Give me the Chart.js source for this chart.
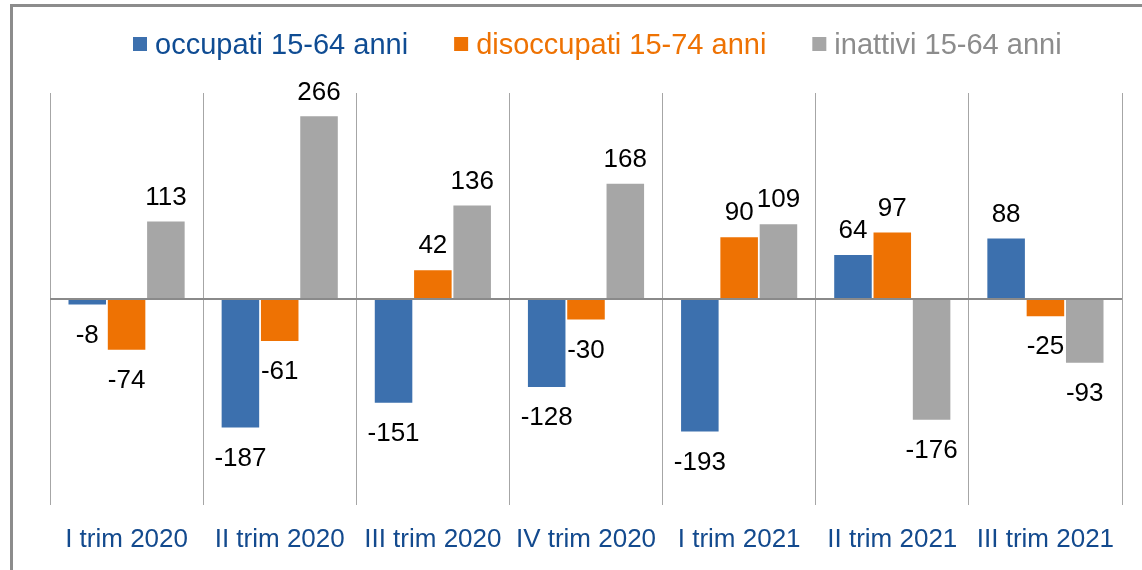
<!DOCTYPE html>
<html><head><meta charset="utf-8">
<script src="https://cdn.jsdelivr.net/npm/chart.js@4/dist/chart.umd.min.js"></script>
<style>
html,body{margin:0;padding:0;background:#fff;overflow:hidden}
#wrap{position:relative;width:1142px;height:570px;overflow:hidden}
#frame{position:absolute;left:10px;top:4px;width:1200px;height:700px;border-left:3px solid #8c8c8c;border-top:3px solid #8c8c8c}
canvas{position:absolute;left:0;top:0}
</style></head><body>
<div id="wrap"><div id="frame"></div><canvas id="c" width="1142" height="570"></canvas></div>
<script>
const categories = ['I trim 2020','II trim 2020','III trim 2020','IV trim 2020','I trim 2021','II trim 2021','III trim 2021'];
const occupati = [-8,-187,-151,-128,-193,64,88];
const disoccupati = [-74,-61,42,-30,90,97,-25];
const inattivi = [113,266,136,168,109,-176,-93];
const seriesNames = ['occupati 15-64 anni','disoccupati 15-74 anni','inattivi 15-64 anni'];
const yMin = -300, yMax = 300, yStep = 100;

const barColors = ['#3C70AE','#EE7203','#A6A6A6'];
const legendTextColors = ['#0F4C93','#EE7203','#8C8C8C'];
const FONT = '"Liberation Sans", Arial, sans-serif';

const legendPlugin = {
  id: 'customLegend',
  afterDraw(chart) {
    const ctx = chart.ctx;
    ctx.save();
    ctx.font = '29px ' + FONT;
    ctx.textBaseline = 'alphabetic';
    ctx.textAlign = 'left';
    let x = 133;
    const box = 14, gap = 8, sp = 46, base = 53.5;
    chart.data.datasets.forEach((ds, i) => {
      ctx.fillStyle = ds.backgroundColor;
      ctx.fillRect(x, 37, box, box);
      x += box + gap;
      ctx.fillStyle = legendTextColors[i];
      ctx.fillText(ds.label, x, base);
      x += ctx.measureText(ds.label).width + sp;
    });
    ctx.restore();
  }
};

const valueLabels = {
  id: 'valueLabels',
  afterDatasetsDraw(chart) {
    const ctx = chart.ctx;
    ctx.save();
    ctx.font = '26px ' + FONT;
    ctx.textAlign = 'center';
    ctx.textBaseline = 'middle';
    ctx.fillStyle = '#000';
    chart.data.datasets.forEach((ds, i) => {
      const meta = chart.getDatasetMeta(i);
      meta.data.forEach((bar, j) => {
        const v = ds.data[j];
        const y = v >= 0 ? bar.y - 24 : bar.y + 31;
        ctx.fillText(String(v), bar.x, y);
      });
    });
    ctx.restore();
  }
};

new Chart(document.getElementById('c').getContext('2d'), {
  type: 'bar',
  data: {
    labels: categories,
    datasets: [
      {label: seriesNames[0], data: occupati, backgroundColor: barColors[0]},
      {label: seriesNames[1], data: disoccupati, backgroundColor: barColors[1]},
      {label: seriesNames[2], data: inattivi, backgroundColor: barColors[2]}
    ]
  },
  options: {
    responsive: false,
    animation: false,
    devicePixelRatio: 1,
    layout: {padding: {left: 50, right: 20, top: 93, bottom: 0}},
    datasets: {bar: {categoryPercentage: 0.77, barPercentage: 0.955}},
    plugins: {legend: {display: false}, tooltip: {enabled: false}},
    scales: {
      x: {
        grid: {display: true, color: '#A6A6A6', lineWidth: 1, drawTicks: false, offset: true},
        border: {display: false},
        ticks: {color: '#134A8E', font: {size: 26, family: FONT}, padding: 19, maxRotation: 0, autoSkip: false},
        afterFit(s) { s.height = 65; }
      },
      y: {
        min: yMin, max: yMax,
        z: 1,
        ticks: {display: false, stepSize: yStep},
        grid: {drawTicks: false,
          color: c => (c.tick && c.tick.value === 0) ? '#8A8A8A' : 'rgba(0,0,0,0)',
          lineWidth: c => (c.tick && c.tick.value === 0) ? 2 : 1},
        border: {display: false},
        afterFit(s) { s.width = 0; }
      }
    }
  },
  plugins: [legendPlugin, valueLabels]
});
</script>
</body></html>
